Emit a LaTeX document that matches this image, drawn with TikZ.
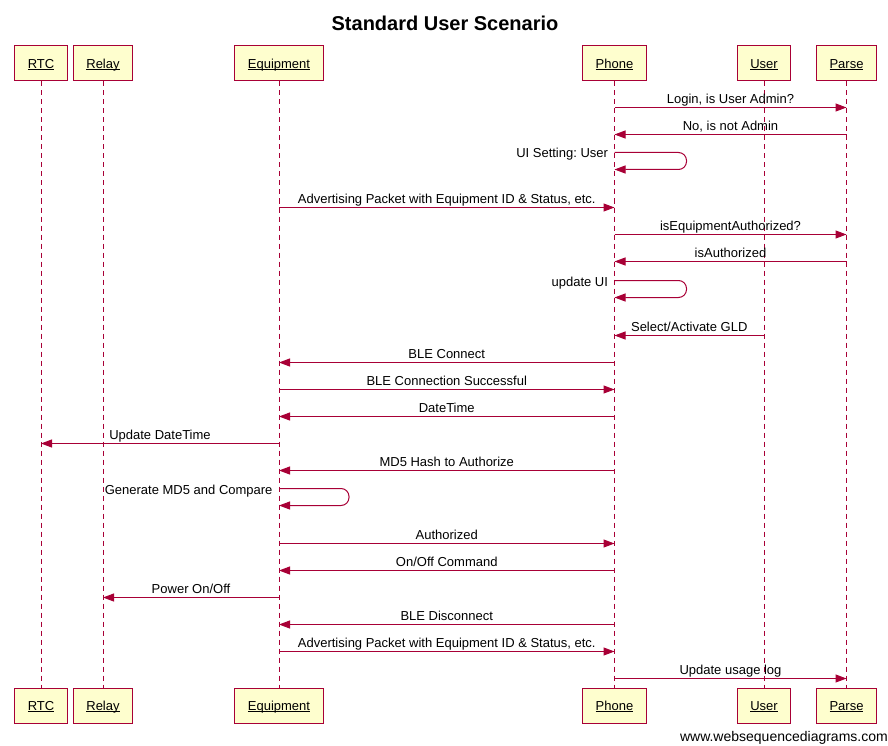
\documentclass[tikz,border=0pt]{standalone}
\usepackage{fontspec}
\setmainfont{Liberation Sans}
\usetikzlibrary{arrows.meta}
\frenchspacing
\definecolor{wsdred}{HTML}{A80036}
\definecolor{wsdfill}{HTML}{FEFECE}
\newcommand{\actorname}[1]{\underline{\smash{#1}}}
\tikzset{
    actor/.style={draw=wsdred, fill=wsdfill, line width=1pt, inner xsep=13pt,
        minimum height=35pt, text height=9.3pt, text depth=0pt, font=\fontsize{13}{15}\selectfont},
    lifeline/.style={draw=wsdred, line width=1pt, dash pattern=on 5pt off 4pt},
    msg/.style={draw=wsdred, line width=1pt, -{Triangle[length=11pt,width=8pt]}},
    loopmsg/.style={msg, rounded corners=8pt},
    msglabel/.style={font=\fontsize{13}{15}\selectfont, inner sep=0pt, text depth=0pt,
        above=3.5pt},
    looplabel/.style={font=\fontsize{13}{15}\selectfont, inner sep=0pt,
        anchor=base east, xshift=-6pt, yshift=-5.5pt}
}
\begin{document}
\begin{tikzpicture}[x=1pt, y=-1pt]
                \useasboundingbox (0,0) rectangle (888,746);
                \node[font=\fontsize{20}{23}\selectfont\bfseries, anchor=base] (title) at (445,30.5) {Standard User Scenario};
                % participants
                \node[actor] (rtcTop) at (41,63.5) {\actorname{RTC}};
                \node[actor] (relayTop) at (103,63.5) {\actorname{Relay}};
                \node[actor] (equipTop) at (279,63.5) {\actorname{Equipment}};
                \node[actor] (phoneTop) at (614.5,63.5) {\actorname{Phone}};
                \node[actor] (userTop) at (764,63.5) {\actorname{User}};
                \node[actor] (parseTop) at (846.5,63.5) {\actorname{Parse}};
                \node[actor] (rtcBot) at (41,705.5) {\actorname{RTC}};
                \node[actor] (relayBot) at (103,705.5) {\actorname{Relay}};
                \node[actor] (equipBot) at (279,705.5) {\actorname{Equipment}};
                \node[actor] (phoneBot) at (614.5,705.5) {\actorname{Phone}};
                \node[actor] (userBot) at (764,705.5) {\actorname{User}};
                \node[actor] (parseBot) at (846.5,705.5) {\actorname{Parse}};
                % lifelines
                \draw[lifeline] (rtcTop.south) -- (rtcBot.north);
                \draw[lifeline] (relayTop.south) -- (relayBot.north);
                \draw[lifeline] (equipTop.south) -- (equipBot.north);
                \draw[lifeline] (phoneTop.south) -- (phoneBot.north);
                \draw[lifeline] (userTop.south) -- (userBot.north);
                \draw[lifeline] (parseTop.south) -- (parseBot.north);
                % messages
                \draw[msg] (phoneTop |- 0,107.5) -- node[msglabel] {Login, is User Admin?} (parseTop |- 0,107.5);
                \draw[msg] (parseTop |- 0,134.5) -- node[msglabel] {No, is not Admin} (phoneTop |- 0,134.5);
                \draw[loopmsg] (phoneTop |- 0,152.5) node[looplabel] {UI Setting: User} -- ++(72,0) -- ++(0,17) -- ++(-72,0);
                \draw[msg] (equipTop |- 0,207.5) -- node[msglabel] {Advertising Packet with Equipment ID \& Status, etc.} (phoneTop |- 0,207.5);
                \draw[msg] (phoneTop |- 0,234.5) -- node[msglabel] {isEquipmentAuthorized?} (parseTop |- 0,234.5);
                \draw[msg] (parseTop |- 0,261.5) -- node[msglabel] {isAuthorized} (phoneTop |- 0,261.5);
                \draw[loopmsg] (phoneTop |- 0,280.5) node[looplabel] {update UI} -- ++(72,0) -- ++(0,17) -- ++(-72,0);
                \draw[msg] (userTop |- 0,335.5) -- node[msglabel] {Select/Activate GLD} (phoneTop |- 0,335.5);
                \draw[msg] (phoneTop |- 0,362.5) -- node[msglabel] {BLE Connect} (equipTop |- 0,362.5);
                \draw[msg] (equipTop |- 0,389.5) -- node[msglabel] {BLE Connection Successful} (phoneTop |- 0,389.5);
                \draw[msg] (phoneTop |- 0,416.5) -- node[msglabel] {DateTime} (equipTop |- 0,416.5);
                \draw[msg] (equipTop |- 0,443.5) -- node[msglabel] {Update DateTime} (rtcTop |- 0,443.5);
                \draw[msg] (phoneTop |- 0,470.5) -- node[msglabel] {MD5 Hash to Authorize} (equipTop |- 0,470.5);
                \draw[loopmsg] (equipTop |- 0,488.5) node[looplabel] {Generate MD5 and Compare} -- ++(70,0) -- ++(0,17) -- ++(-70,0);
                \draw[msg] (equipTop |- 0,543.5) -- node[msglabel] {Authorized} (phoneTop |- 0,543.5);
                \draw[msg] (phoneTop |- 0,570.5) -- node[msglabel] {On/Off Command} (equipTop |- 0,570.5);
                \draw[msg] (equipTop |- 0,597.5) -- node[msglabel] {Power On/Off} (relayTop |- 0,597.5);
                \draw[msg] (phoneTop |- 0,624.5) -- node[msglabel] {BLE Disconnect} (equipTop |- 0,624.5);
                \draw[msg] (equipTop |- 0,651.5) -- node[msglabel] {Advertising Packet with Equipment ID \& Status, etc.} (phoneTop |- 0,651.5);
                \draw[msg] (phoneTop |- 0,678.5) -- node[msglabel] {Update usage log} (parseTop |- 0,678.5);
                \node[font=\fontsize{14}{16}\selectfont, anchor=base east, inner sep=0pt] (credit) at (888,741.5) {www.websequencediagrams.com};
            \end{tikzpicture}
\end{document}
